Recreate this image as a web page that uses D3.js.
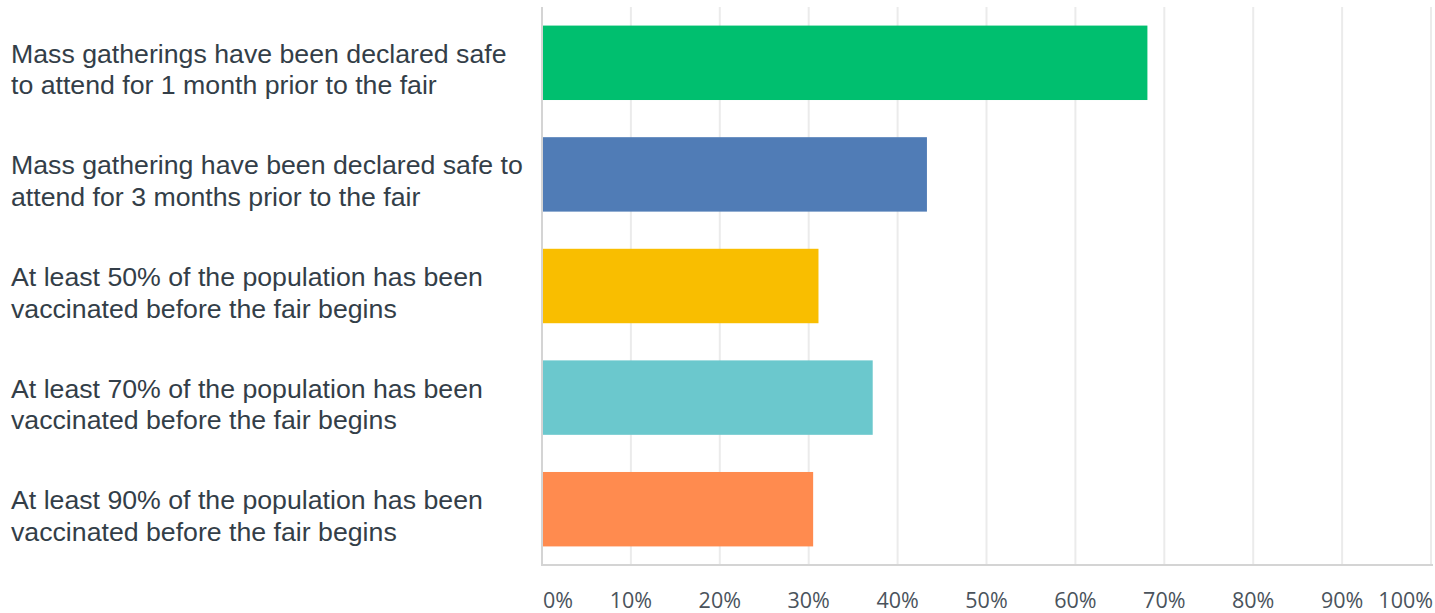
<!DOCTYPE html>
<html>
<head>
<meta charset="utf-8">
<script src="https://cdn.jsdelivr.net/npm/d3@7"></script>
<style>
  html, body { margin: 0; padding: 0; background: #fff; }
  svg { display: block; }
</style>
</head>
<body>
<svg id="chart" width="1435" height="613"></svg>
<script>
// Answer options (each split into its two display lines)
const categories = [
  ["Mass gatherings have been declared safe", "to attend for 1 month prior to the fair"],
  ["Mass gathering have been declared safe to", "attend for 3 months prior to the fair"],
  ["At least 50% of the population has been", "vaccinated before the fair begins"],
  ["At least 70% of the population has been", "vaccinated before the fair begins"],
  ["At least 90% of the population has been", "vaccinated before the fair begins"]
];
// Share of respondents (%)
const values = [68.1, 43.3, 31.1, 37.2, 30.5];
const barColors = ["#00bf6f", "#507cb6", "#f9be00", "#6bc8cd", "#ff8b4f"];
const tickValues = [0, 10, 20, 30, 40, 50, 60, 70, 80, 90, 100];
const tickLabels = ["0%", "10%", "20%", "30%", "40%", "50%", "60%", "70%", "80%", "90%", "100%"];

const svg = d3.select("#chart");
const plot = { left: 542, right: 1431, top: 7, bottom: 565 };

const x = d3.scaleLinear().domain([0, 100]).range([plot.left, plot.right]);
const y = d3.scaleBand()
  .domain(d3.range(categories.length))
  .range([plot.top, plot.bottom])
  .paddingInner(0.333)
  .paddingOuter(0.1665);

// vertical gridlines
svg.append("g")
  .selectAll("line")
  .data(tickValues.slice(1))
  .join("line")
  .attr("x1", d => x(d)).attr("x2", d => x(d))
  .attr("y1", plot.top).attr("y2", plot.bottom)
  .attr("stroke", "#ebebeb")
  .attr("stroke-width", 2);

// bars
svg.append("g")
  .selectAll("rect")
  .data(values)
  .join("rect")
  .attr("x", x(0))
  .attr("y", (d, i) => y(i))
  .attr("width", d => x(d) - x(0))
  .attr("height", y.bandwidth())
  .attr("fill", (d, i) => barColors[i]);

// axis frame: left and bottom lines
svg.append("line")
  .attr("x1", plot.left).attr("x2", plot.left)
  .attr("y1", plot.top).attr("y2", plot.bottom)
  .attr("stroke", "#d4d4d4").attr("stroke-width", 2);
svg.append("line")
  .attr("x1", plot.left - 1).attr("x2", plot.right + 2)
  .attr("y1", plot.bottom).attr("y2", plot.bottom)
  .attr("stroke", "#d4d4d4").attr("stroke-width", 2);

// x tick labels (first left-aligned, last right-aligned, rest centred)
svg.append("g")
  .selectAll("text")
  .data(tickValues)
  .join("text")
  .attr("x", (d, i) => i === 0 ? x(d) + 1 : (i === tickValues.length - 1 ? x(d) + 2 : x(d)))
  .attr("y", 608)
  .attr("text-anchor", (d, i) => i === 0 ? "start" : (i === tickValues.length - 1 ? "end" : "middle"))
  .attr("font-family", "'Open Sans', 'Liberation Sans', Arial, sans-serif")
  .attr("font-size", 21.5)
  .attr("fill", "#4a535c")
  .text((d, i) => tickLabels[i]);

// category labels
const labels = svg.append("g")
  .selectAll("text")
  .data(categories)
  .join("text")
  .attr("x", 11)
  .attr("y", (d, i) => y(i) + y.bandwidth() / 2)
  .attr("font-family", "'Liberation Sans', Arial, sans-serif")
  .attr("font-size", 26.7)
  .attr("fill", "#333e48");
labels.selectAll("tspan")
  .data(d => d)
  .join("tspan")
  .attr("x", 11)
  .attr("dy", (d, i) => i === 0 ? 0 : 31.5)
  .text(d => d);
</script>
</body>
</html>
